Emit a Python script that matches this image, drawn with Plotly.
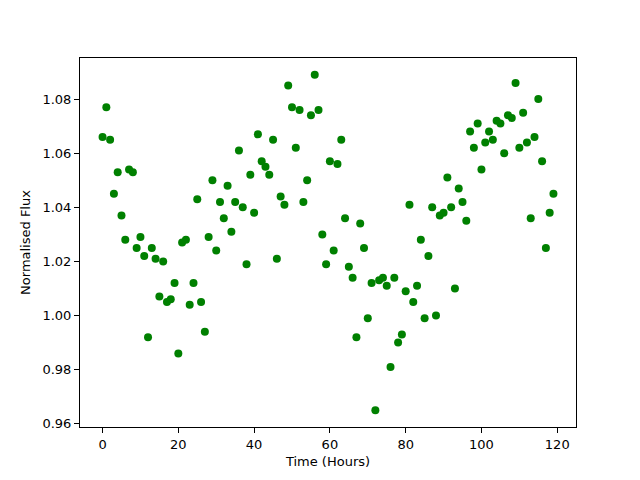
import plotly.graph_objects as go

time_hours = list(range(120))
flux = [
    1.066, 1.077, 1.065, 1.045, 1.053, 1.037, 1.028, 1.054, 1.053, 1.025,
    1.029, 1.022, 0.992, 1.025, 1.021, 1.007, 1.020, 1.005, 1.006, 1.012,
    0.986, 1.027, 1.028, 1.004, 1.012, 1.043, 1.005, 0.994, 1.029, 1.050,
    1.024, 1.042, 1.036, 1.048, 1.031, 1.042, 1.061, 1.040, 1.019, 1.052,
    1.038, 1.067, 1.057, 1.055, 1.052, 1.065, 1.021, 1.044, 1.041, 1.085,
    1.077, 1.062, 1.076, 1.042, 1.050, 1.074, 1.089, 1.076, 1.030, 1.019,
    1.057, 1.024, 1.056, 1.065, 1.036, 1.018, 1.014, 0.992, 1.034, 1.025,
    0.999, 1.012, 0.965, 1.013, 1.014, 1.011, 0.981, 1.014, 0.990, 0.993,
    1.009, 1.041, 1.005, 1.011, 1.028, 0.999, 1.022, 1.040, 1.000, 1.037,
    1.038, 1.051, 1.040, 1.010, 1.047, 1.042, 1.035, 1.068, 1.062, 1.071,
    1.054, 1.064, 1.068, 1.065, 1.072, 1.071, 1.060, 1.074, 1.073, 1.086,
    1.062, 1.075, 1.064, 1.036, 1.066, 1.080, 1.057, 1.025, 1.038, 1.045,
]
y_ticks = [0.96, 0.98, 1.00, 1.02, 1.04, 1.06, 1.08]
x_ticks = [0, 20, 40, 60, 80, 100, 120]

xmin, xmax = min(time_hours), max(time_hours)
ymin, ymax = min(flux), max(flux)
xpad = (xmax - xmin) * 0.05
ypad = (ymax - ymin) * 0.05

fig = go.Figure(go.Scatter(
    x=time_hours, y=flux, mode="markers",
    marker=dict(color="#008000", size=8, line=dict(width=0)),
))

axis_common = dict(
    showline=True, linecolor="black", linewidth=1, mirror=True,
    ticks="outside", ticklen=5, tickwidth=1, tickcolor="black",
    showgrid=False, zeroline=False,
    tickfont=dict(family="DejaVu Sans", size=13, color="black"),
    title_font=dict(family="DejaVu Sans", size=13, color="black"),
)

fig.update_layout(
    width=640, height=480,
    margin=dict(l=72, r=72, t=50, b=61),
    paper_bgcolor="white", plot_bgcolor="white",
    showlegend=False,
    xaxis=dict(range=[xmin - xpad, xmax + xpad], tickvals=x_ticks,
               title=dict(text="Time (Hours)", standoff=6), **axis_common),
    yaxis=dict(range=[ymin - ypad, ymax + ypad], tickvals=y_ticks, tickformat=".2f",
               title=dict(text="Normalised Flux", standoff=8), **axis_common),
)

fig.write_html("out.html")
